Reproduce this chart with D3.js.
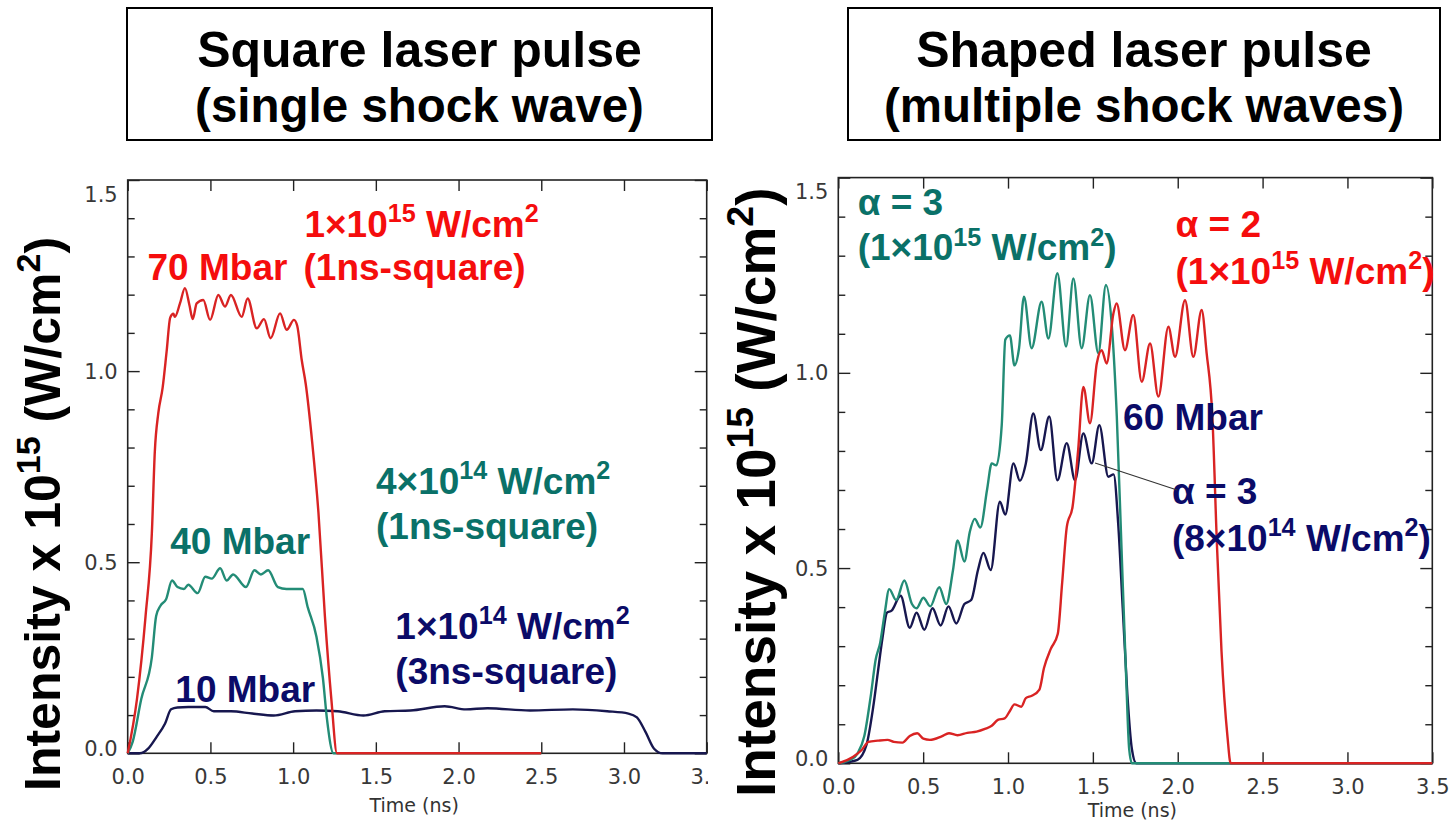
<!DOCTYPE html>
<html>
<head>
<meta charset="utf-8">
<script src="https://cdn.jsdelivr.net/npm/d3@7"></script>
<style>
  html, body { margin: 0; padding: 0; background: #fff; }
  svg { display: block; }
  text { white-space: pre; }
</style>
</head>
<body>
<svg id="chart" width="1455" height="831"></svg>
<script>
// Laser pulse intensity histories: time in ns, intensity in units of 1e15 W/cm^2.

// Square pulses (single shock wave)
const squareRed = [[0,0],[0.056,0.142],[0.108,0.359],[0.146,0.576],[0.164,0.79],[0.185,0.89],[0.211,0.956],[0.235,1.05],[0.257,1.14],[0.276,1.15],[0.285,1.142],[0.316,1.177],[0.346,1.217],[0.373,1.173],[0.393,1.136],[0.417,1.177],[0.457,1.186],[0.498,1.134],[0.548,1.199],[0.588,1.169],[0.624,1.199],[0.689,1.142],[0.725,1.19],[0.78,1.112],[0.824,1.136],[0.864,1.086],[0.921,1.151],[0.961,1.108],[1.005,1.134],[1.025,1.118],[1.052,1.029],[1.076,0.967],[1.115,0.815],[1.153,0.63],[1.192,0.359],[1.231,0.142],[1.265,0],[2.5,0]];
const squareTeal = [[0,0],[0.03,0.03],[0.082,0.142],[0.146,0.251],[0.172,0.359],[0.198,0.386],[0.232,0.403],[0.268,0.452],[0.301,0.435],[0.34,0.43],[0.366,0.441],[0.423,0.419],[0.469,0.462],[0.508,0.457],[0.559,0.484],[0.598,0.452],[0.637,0.468],[0.715,0.435],[0.766,0.479],[0.805,0.468],[0.849,0.479],[0.908,0.435],[0.96,0.43],[1.025,0.43],[1.058,0.43],[1.089,0.381],[1.141,0.305],[1.18,0.197],[1.205,0.088],[1.244,0],[2.5,0]];
const squareNavy = [[0,0],[0.074,0],[0.125,0.013],[0.175,0.043],[0.226,0.078],[0.262,0.115],[0.3,0.12],[0.366,0.121],[0.469,0.121],[0.52,0.11],[0.624,0.11],[0.753,0.104],[0.883,0.099],[1.012,0.11],[1.141,0.112],[1.27,0.11],[1.425,0.099],[1.554,0.11],[1.709,0.112],[1.916,0.123],[2.045,0.115],[2.174,0.118],[2.432,0.112],[2.691,0.115],[2.898,0.11],[3.027,0.104],[3.078,0.094],[3.13,0.056],[3.182,0.012],[3.233,0],[3.5,0]];

// Shaped pulses (multiple shock waves)
const shapedTeal = [[0,0],[0.072,0.009],[0.113,0.025],[0.153,0.069],[0.193,0.178],[0.22,0.265],[0.247,0.309],[0.274,0.386],[0.3,0.446],[0.341,0.418],[0.389,0.468],[0.434,0.408],[0.461,0.397],[0.501,0.424],[0.542,0.402],[0.595,0.451],[0.636,0.408],[0.676,0.495],[0.703,0.571],[0.743,0.517],[0.775,0.593],[0.804,0.626],[0.837,0.604],[0.877,0.702],[0.904,0.768],[0.931,0.763],[0.963,0.866],[0.984,1.085],[1.011,1.096],[1.038,1.019],[1.065,1.063],[1.094,1.195],[1.139,1.063],[1.198,1.182],[1.238,1.088],[1.291,1.255],[1.342,1.067],[1.385,1.242],[1.434,1.063],[1.483,1.199],[1.532,1.05],[1.577,1.225],[1.614,1.107],[1.641,0.888],[1.668,0.56],[1.695,0.233],[1.714,0.036],[1.73,0],[3.5,0]];
const shapedNavy = [[0,0],[0.113,0.009],[0.166,0.047],[0.206,0.145],[0.233,0.233],[0.26,0.32],[0.287,0.386],[0.314,0.391],[0.367,0.429],[0.421,0.347],[0.461,0.386],[0.507,0.342],[0.555,0.397],[0.603,0.353],[0.649,0.402],[0.695,0.358],[0.743,0.408],[0.783,0.418],[0.823,0.495],[0.855,0.539],[0.898,0.495],[0.952,0.67],[0.984,0.637],[1.032,0.768],[1.07,0.724],[1.105,0.768],[1.149,0.896],[1.193,0.802],[1.243,0.888],[1.291,0.725],[1.346,0.82],[1.395,0.725],[1.444,0.845],[1.493,0.768],[1.538,0.866],[1.591,0.734],[1.622,0.74],[1.649,0.615],[1.676,0.397],[1.703,0.178],[1.73,0.036],[1.756,0],[3.5,0]];
const shapedRed = [[0,0],[0.088,0.017],[0.138,0.034],[0.178,0.055],[0.233,0.058],[0.29,0.06],[0.327,0.055],[0.378,0.053],[0.421,0.07],[0.465,0.077],[0.501,0.063],[0.54,0.06],[0.609,0.069],[0.652,0.077],[0.702,0.072],[0.76,0.078],[0.815,0.081],[0.864,0.088],[0.904,0.096],[0.94,0.111],[0.98,0.115],[1.011,0.134],[1.038,0.151],[1.078,0.145],[1.105,0.167],[1.14,0.173],[1.185,0.189],[1.212,0.244],[1.252,0.293],[1.293,0.331],[1.319,0.462],[1.346,0.604],[1.381,0.659],[1.413,0.801],[1.444,0.964],[1.483,0.871],[1.523,1.024],[1.552,1.058],[1.581,1.024],[1.621,1.152],[1.64,1.178],[1.689,1.058],[1.738,1.148],[1.788,0.977],[1.837,1.075],[1.886,0.939],[1.945,1.118],[1.984,1.041],[2.043,1.186],[2.092,1.041],[2.141,1.161],[2.17,1.052],[2.204,0.888],[2.231,0.56],[2.258,0.287],[2.293,0.069],[2.312,0],[3.5,0]];

// Axis ticks
const timeTicks = [0, 0.5, 1.0, 1.5, 2.0, 2.5, 3.0, 3.5];
const timeTickLabels = ["0.0", "0.5", "1.0", "1.5", "2.0", "2.5", "3.0", "3.5"];
const intensityTicks = [0, 0.5, 1.0, 1.5];
const intensityTickLabels = ["0.0", "0.5", "1.0", "1.5"];
const intensityMinorTicks = [0.1, 0.2, 0.3, 0.4, 0.6, 0.7, 0.8, 0.9, 1.1, 1.2, 1.3, 1.4];

// Panel titles
const panelTitles = [
  ["Square laser pulse", "(single shock wave)"],
  ["Shaped laser pulse", "(multiple shock waves)"]
];

const COLORS = {
  redLine: "#d92323", redText: "#f50d0d",
  tealLine: "#238c76", tealText: "#0a7168",
  navyLine: "#17174f", navyText: "#0b0b68"
};
const BOLD = "'Liberation Sans', Arial, Helvetica, sans-serif";
const TICKFONT = "'DejaVu Sans', Verdana, sans-serif";
const svg = d3.select("#chart");

// Text with superscript pieces: parts = [[text, isSuper], ...]
function richText(parent, x, y, parts, size, color, opts = {}) {
  const t = parent.append("text")
    .attr("x", x).attr("y", y)
    .attr("font-family", BOLD)
    .attr("font-weight", "bold")
    .attr("font-size", size)
    .attr("fill", color);
  if (opts.transform) t.attr("transform", opts.transform);
  if (opts.anchor) t.attr("text-anchor", opts.anchor);
  const shift = size * 0.4;
  let raised = false;
  parts.forEach(([str, sup]) => {
    const s = t.append("tspan").text(str);
    if (sup && !raised) { s.attr("dy", -shift).attr("font-size", size * 0.68); raised = true; }
    else if (sup) { s.attr("font-size", size * 0.68); }
    else if (!sup && raised) { s.attr("dy", shift); raised = false; }
  });
  return t;
}

function drawPanel(cfg) {
  const g = svg.append("g");
  const x = d3.scaleLinear().domain([0, 3.5]).range([cfg.left, cfg.right]);
  const y = d3.scaleLinear().domain([0, 1.5]).range([cfg.bottom, cfg.top]);

  const styleAxis = sel => {
    sel.select(".domain").remove();
    sel.selectAll(".tick line").attr("stroke", "#222").attr("stroke-width", 1.4);
    sel.selectAll(".tick text")
      .attr("font-family", TICKFONT)
      .attr("font-size", 21)
      .attr("fill", "#383838");
  };

  // bottom axis with labels (optionally clipped at the right edge)
  const bottomWrap = g.append("g");
  if (cfg.clipRight) {
    const id = "clip-" + cfg.id;
    svg.append("defs").append("clipPath").attr("id", id)
      .append("rect").attr("x", 0).attr("y", 0).attr("width", cfg.clipRight).attr("height", 831);
    bottomWrap.attr("clip-path", `url(#${id})`);
  }
  bottomWrap.append("g")
    .attr("transform", `translate(0,${cfg.bottom})`)
    .call(d3.axisBottom(x).tickValues(timeTicks).tickSize(-11).tickSizeOuter(0).tickPadding(16)
      .tickFormat((d, i) => timeTickLabels[i]))
    .call(styleAxis);

  g.append("g")
    .attr("transform", `translate(0,${cfg.top})`)
    .call(d3.axisTop(x).tickValues(timeTicks).tickSize(-11).tickSizeOuter(0).tickFormat(""))
    .call(styleAxis);

  // left axis: major ticks with labels, minor ticks
  const leftAxis = g.append("g")
    .attr("transform", `translate(${cfg.left},0)`)
    .call(d3.axisLeft(y).tickValues(intensityTicks).tickSize(-12).tickSizeOuter(0).tickPadding(10)
      .tickFormat((d, i) => intensityTickLabels[i]))
    .call(styleAxis);
  leftAxis.selectAll(".tick text").attr("dy", d => d === 1.5 ? "1.0em" : d === 0 ? "0.12em" : "0.34em");
  g.append("g")
    .attr("transform", `translate(${cfg.left},0)`)
    .call(d3.axisLeft(y).tickValues(intensityMinorTicks).tickSize(-7).tickSizeOuter(0).tickFormat(""))
    .call(styleAxis);

  // right axis: inward ticks only
  g.append("g")
    .attr("transform", `translate(${cfg.right},0)`)
    .call(d3.axisRight(y).tickValues(intensityTicks).tickSize(-12).tickSizeOuter(0).tickFormat(""))
    .call(styleAxis);
  g.append("g")
    .attr("transform", `translate(${cfg.right},0)`)
    .call(d3.axisRight(y).tickValues(intensityMinorTicks).tickSize(-7).tickSizeOuter(0).tickFormat(""))
    .call(styleAxis);

  // frame
  g.append("rect")
    .attr("x", cfg.left).attr("y", cfg.top)
    .attr("width", cfg.right - cfg.left).attr("height", cfg.bottom - cfg.top)
    .attr("fill", "none").attr("stroke", "#222").attr("stroke-width", 1.6);

  // x-axis title
  g.append("text")
    .attr("x", (cfg.left + cfg.right) / 2 - 3)
    .attr("y", cfg.bottom + cfg.titleGap)
    .attr("text-anchor", "middle")
    .attr("font-family", TICKFONT)
    .attr("font-size", 19)
    .attr("fill", "#333")
    .text("Time (ns)");

  // curves
  const line = d3.line().x(d => x(d[0])).y(d => y(d[1])).curve(d3.curveMonotoneX);
  cfg.series.forEach(s => {
    g.append("path")
      .datum(s.data)
      .attr("d", line)
      .attr("fill", "none")
      .attr("stroke", s.color)
      .attr("stroke-width", 2.4)
      .attr("stroke-linejoin", "round");
  });

  return { g, x, y };
}

// ---------- Left panel: square pulses ----------
const left = drawPanel({
  id: "square", left: 127.7, right: 706.7, top: 180, bottom: 753.3, clipRight: 708, titleGap: 59,
  series: [
    { data: squareNavy, color: COLORS.navyLine },
    { data: squareTeal, color: COLORS.tealLine },
    { data: squareRed, color: COLORS.redLine }
  ]
});
const LS = 37;
richText(left.g, left.x(1.068), left.y(1.352), [["1×10", false], ["15", true], [" W/cm", false], ["2", true]], LS, COLORS.redText);
richText(left.g, left.x(1.063), left.y(1.238), [["(1ns-square)", false]], LS, COLORS.redText);
richText(left.g, left.x(0.12), left.y(1.238), [["70 Mbar", false]], LS, COLORS.redText);
richText(left.g, left.x(1.501), left.y(0.679), [["4×10", false], ["14", true], [" W/cm", false], ["2", true]], LS, COLORS.tealText);
richText(left.g, left.x(1.501), left.y(0.56), [["(1ns-square)", false]], LS, COLORS.tealText);
richText(left.g, left.x(0.257), left.y(0.522), [["40 Mbar", false]], LS, COLORS.tealText);
richText(left.g, left.x(1.618), left.y(0.300), [["1×10", false], ["14", true], [" W/cm", false], ["2", true]], LS, COLORS.navyText);
richText(left.g, left.x(1.618), left.y(0.181), [["(3ns-square)", false]], LS, COLORS.navyText);
richText(left.g, left.x(0.288), left.y(0.134), [["10 Mbar", false]], LS, COLORS.navyText);

// ---------- Right panel: shaped pulses ----------
const right = drawPanel({
  id: "shaped", left: 838.3, right: 1432.3, top: 177.6, bottom: 763.3, titleGap: 54,
  series: [
    { data: shapedNavy, color: COLORS.navyLine },
    { data: shapedTeal, color: COLORS.tealLine },
    { data: shapedRed, color: COLORS.redLine }
  ]
});
richText(right.g, right.x(0.114), right.y(1.403), [["α = 3", false]], LS, COLORS.tealText);
richText(right.g, right.x(0.114), right.y(1.288), [["(1×10", false], ["15", true], [" W/cm", false], ["2", true], [")", false]], LS, COLORS.tealText);
richText(right.g, right.x(1.987), right.y(1.348), [["α = 2", false]], LS, COLORS.redText);
richText(right.g, right.x(1.987), right.y(1.228), [["(1×10", false], ["15", true], [" W/cm", false], ["2", true], [")", false]], LS, COLORS.redText);
richText(right.g, right.x(1.678), right.y(0.854), [["60 Mbar", false]], LS, COLORS.navyText);
richText(right.g, right.x(1.966), right.y(0.664), [["α = 3", false]], LS, COLORS.navyText);
richText(right.g, right.x(1.966), right.y(0.544), [["(8×10", false], ["14", true], [" W/cm", false], ["2", true], [")", false]], LS, COLORS.navyText);
right.g.append("line")
  .attr("x1", right.x(1.513)).attr("y1", right.y(0.769))
  .attr("x2", right.x(1.996)).attr("y2", right.y(0.70))
  .attr("stroke", "#333").attr("stroke-width", 1.1);

// ---------- Y-axis titles ----------
const yTitleParts = [["Intensity x 10", false], ["15", true], [" (W/cm", false], ["2", true], [")", false]];
richText(svg, 0, 0, yTitleParts, 50, "#000", { transform: "translate(60,791) rotate(-90)" });
richText(svg, 0, 0, yTitleParts, 55, "#000", { transform: "translate(775,797) rotate(-90)" });

// ---------- Title boxes ----------
const boxes = [
  { x0: 127, x1: 712 },
  { x0: 848, x1: 1440 }
];
const titleSizes = [50, 47.5];
boxes.forEach((b, i) => {
  svg.append("rect")
    .attr("x", b.x0).attr("y", 8).attr("width", b.x1 - b.x0).attr("height", 132)
    .attr("fill", "#fff").attr("stroke", "#000").attr("stroke-width", 2);
  panelTitles[i].forEach((line, j) => {
    svg.append("text")
      .attr("x", (b.x0 + b.x1) / 2).attr("y", 67 + j * 55)
      .attr("text-anchor", "middle")
      .attr("font-family", BOLD).attr("font-weight", "bold")
      .attr("font-size", titleSizes[j])
      .attr("fill", "#000")
      .text(line);
  });
});
</script>
</body>
</html>
